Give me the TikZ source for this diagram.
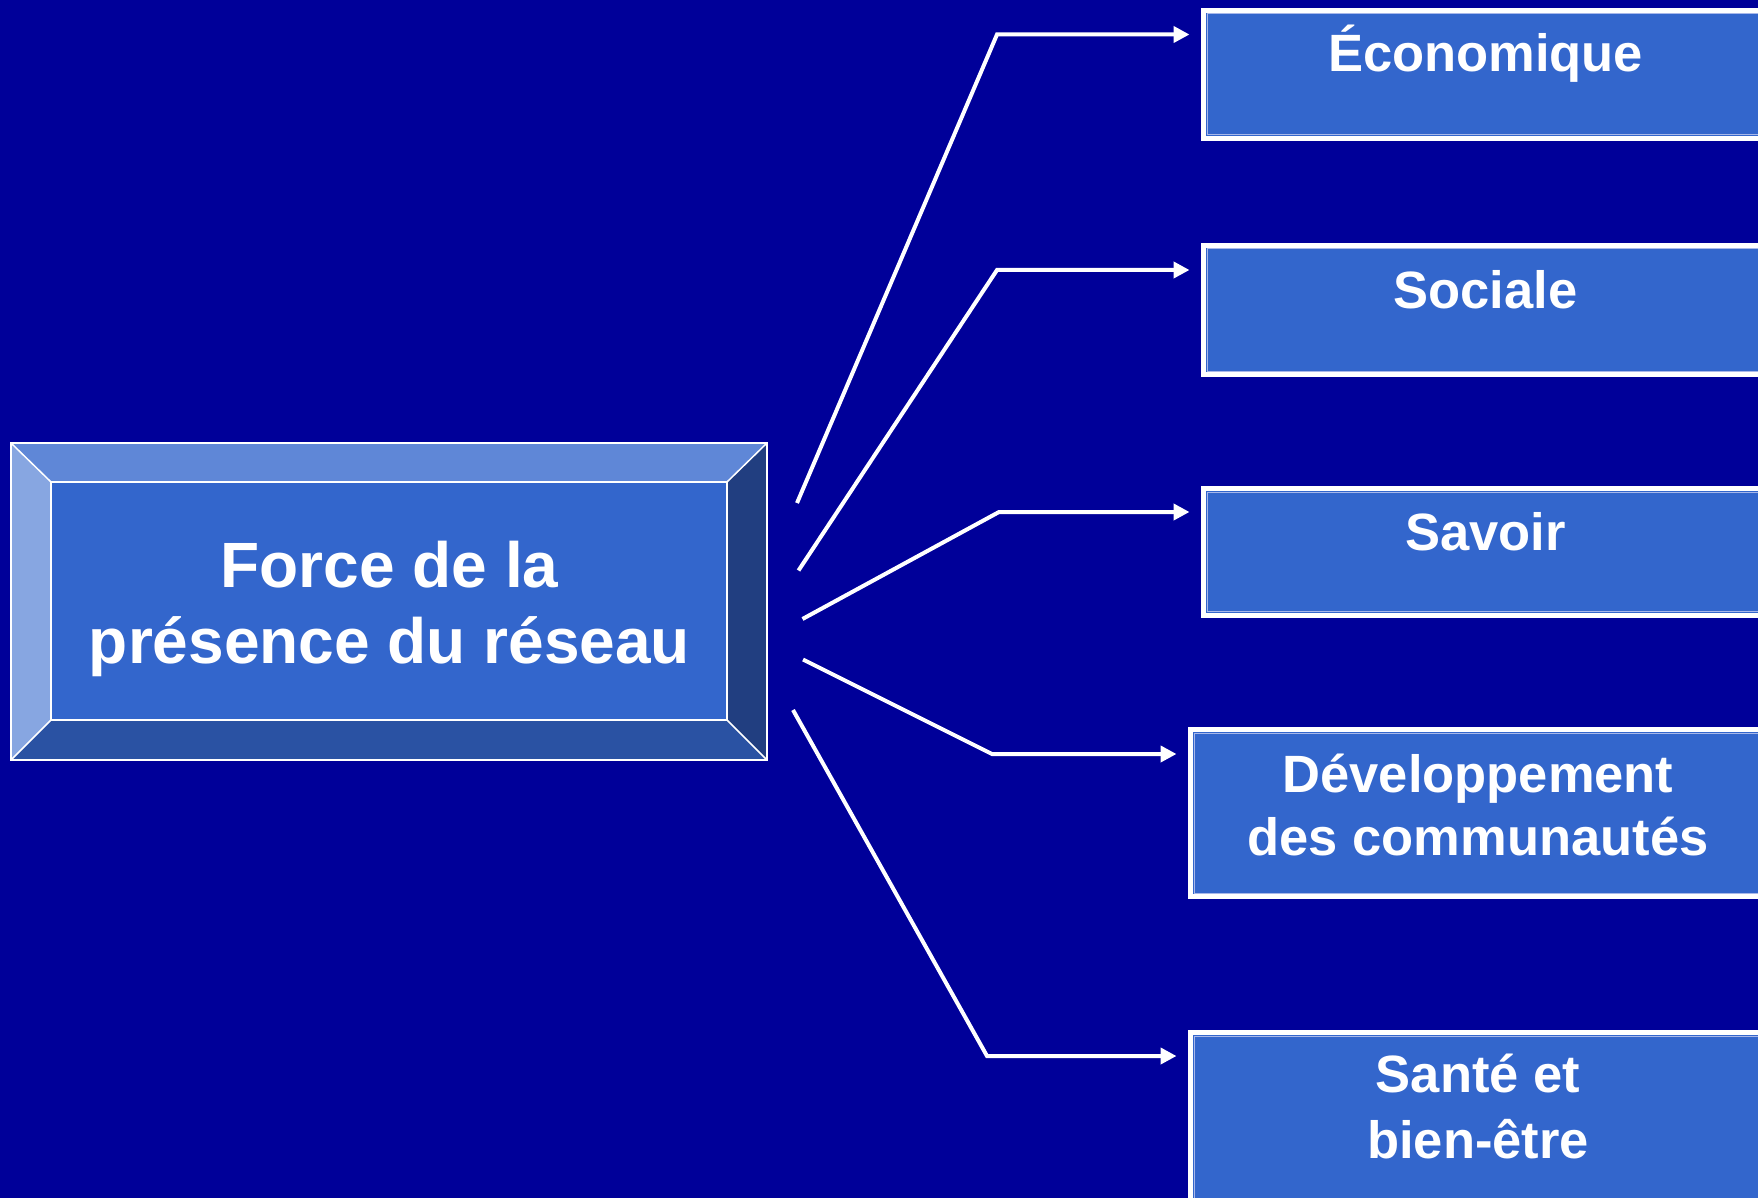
\documentclass[tikz,border=0pt]{standalone}
\usepackage{fontspec}
\setmainfont{Liberation Sans}
\usetikzlibrary{arrows.meta}
\definecolor{bg}{HTML}{000099}
\definecolor{boxfill}{HTML}{3366CC}
\definecolor{bevtop}{HTML}{5F87D7}
\definecolor{bevleft}{HTML}{87A6E1}
\definecolor{bevbot}{HTML}{2A52A3}
\definecolor{bevright}{HTML}{213E80}
\definecolor{innerline}{HTML}{A8B8EA}
\tikzset{
  rbox/.style={draw=white, line width=5pt, fill=boxfill, rectangle, inner sep=0pt, outer sep=0pt, anchor=north west},
  bigtxt/.style={text=white, font=\fontsize{64}{76}\selectfont\bfseries, anchor=base, inner sep=0pt},
  rtxt/.style={text=white, font=\fontsize{52.5}{64}\selectfont\bfseries, anchor=base, inner sep=0pt},
  conn/.style={draw=white, line width=4pt, -{Triangle[length=16pt,width=16pt]}},
  thinw/.style={draw=white, line width=1.5pt}
}
\begin{document}
\begin{tikzpicture}[x=1pt,y=-1pt]
\useasboundingbox (0,0) rectangle (1758,1198);
\clip (0,0) rectangle (1758,1198);
\fill[bg] (0,0) rectangle (1758,1198);

% left bevelled box
\node[rectangle, inner sep=0pt, outer sep=0pt, minimum width=756pt, minimum height=317pt] (force) at (389,601.5) {};
\node[rectangle, inner sep=0pt, outer sep=0pt, minimum width=676pt, minimum height=238pt] (forcein) at (389,601) {};
\fill[bevtop] (force.north west) -- (force.north east) -- (forcein.north east) -- (forcein.north west) -- cycle;
\fill[bevleft] (force.north west) -- (forcein.north west) -- (forcein.south west) -- (force.south west) -- cycle;
\fill[bevbot] (force.south west) -- (forcein.south west) -- (forcein.south east) -- (force.south east) -- cycle;
\fill[bevright] (force.north east) -- (force.south east) -- (forcein.south east) -- (forcein.north east) -- cycle;
\fill[boxfill] (forcein.north west) rectangle (forcein.south east);
\draw[thinw] (force.north west) rectangle (force.south east);
\draw[thinw] (forcein.north west) rectangle (forcein.south east);
\draw[thinw] (force.north west) -- (forcein.north west);
\draw[thinw] (force.north east) -- (forcein.north east);
\draw[thinw] (force.south west) -- (forcein.south west);
\draw[thinw] (force.south east) -- (forcein.south east);
\node[bigtxt] (force1) at (389.5,587) {Force de la};
\node[bigtxt] (force2) at (389.5,663) {présence du réseau};

% right boxes
\node[rbox, minimum width=566.5pt, minimum height=128pt] (econ) at (1203.5,10.5) {};
\node[rbox, minimum width=566.5pt, minimum height=129pt] (soc) at (1203.5,245.5) {};
\node[rbox, minimum width=566.5pt, minimum height=126.5pt] (sav) at (1203.5,488.5) {};
\node[rbox, minimum width=579.5pt, minimum height=167pt] (dev) at (1190.5,729.5) {};
\node[rbox, minimum width=579.5pt, minimum height=180pt] (sante) at (1190.5,1032.5) {};
\foreach \b in {econ,soc,sav,dev,sante}{
  \draw[innerline, line width=1pt] ([shift={(3.5pt,-3.5pt)}]\b.north west) rectangle ([shift={(-3.5pt,3.5pt)}]\b.south east);
}

\node[rtxt] (econt) at (1485.5,72) {Économique};
\node[rtxt] (soct) at (1485.5,308) {Sociale};
\node[rtxt] (savt) at (1485.5,550.5) {Savoir};
\node[rtxt] (devt1) at (1478,792) {Développement};
\node[rtxt] (devt2) at (1478,855) {des communautés};
\node[rtxt] (santet1) at (1478,1092) {Santé et};
\node[rtxt] (santet2) at (1478,1158) {bien-être};

% connectors
\coordinate (s1) at (797,503);
\coordinate (k1) at (997,34.5);
\coordinate (t1) at ([xshift=-14pt]econ.west |- k1);
\coordinate (s2) at (798.5,570.5);
\coordinate (k2) at (997,270);
\coordinate (t2) at ([xshift=-14pt]soc.west |- k2);
\coordinate (s3) at (802.5,619);
\coordinate (k3) at (999,512);
\coordinate (t3) at ([xshift=-14pt]sav.west |- k3);
\coordinate (s4) at (803,659.5);
\coordinate (k4) at (992,754);
\coordinate (t4) at ([xshift=-14pt]dev.west |- k4);
\coordinate (s5) at (793,710);
\coordinate (k5) at (987,1056);
\coordinate (t5) at ([xshift=-14pt]sante.west |- k5);
\draw[conn] (s1) -- (k1) -- (t1);
\draw[conn] (s2) -- (k2) -- (t2);
\draw[conn] (s3) -- (k3) -- (t3);
\draw[conn] (s4) -- (k4) -- (t4);
\draw[conn] (s5) -- (k5) -- (t5);
\end{tikzpicture}
\end{document}
